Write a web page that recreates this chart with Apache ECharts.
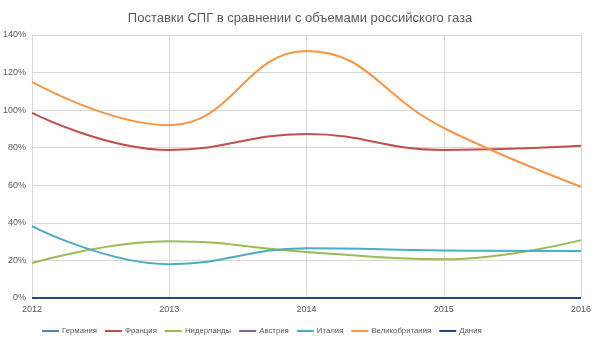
<!DOCTYPE html>
<html><head><meta charset="utf-8">
<script src="https://cdn.jsdelivr.net/npm/echarts@6/dist/echarts.min.js"></script>
<style>html,body{margin:0;padding:0;background:#fff}#c{width:600px;height:343px}</style>
</head><body><div id="c"></div>
<script>
const years = ['2012','2013','2014','2015','2016'];
const germany = [0,0,0,0,0];
const france = [98.5,78.8,87.3,78.8,81];
const netherlands = [18.6,30.2,24.5,20.6,30.8];
const austria = [0,0,0,0,0];
const italy = [38.3,18,26.5,25.3,25];
const uk = [115,92,131.5,90.5,59.2];
const denmark = [0,0,0,0,0];
const names = ['Германия','Франция','Нидерланды','Австрия','Италия','Великобритания','Дания'];
const colors = ['#4F81BD','#C0504D','#9BBB59','#8064A2','#4BACC6','#F79646','#1F497D'];
const data = [germany,france,netherlands,austria,italy,uk,denmark];
const chart = echarts.init(document.getElementById('c'));
chart.setOption({
  animation:false,
  title:{text:'Поставки СПГ в сравнении с объемами российского газа',left:'center',top:7,
    textStyle:{fontFamily:'Liberation Sans, Arial',fontSize:13,fontWeight:'normal',color:'#595959'}},
  grid:{left:31,right:19,top:35,bottom:45,containLabel:false},
  legend:{top:322,left:37,itemWidth:17,itemHeight:2,itemGap:8,icon:'rect',
    textStyle:{fontSize:7.8,color:'#595959',fontFamily:'Liberation Sans, Arial',padding:[0,0,0,-2]},data:names},
  xAxis:{type:'category',data:years,boundaryGap:false,
    axisLine:{lineStyle:{color:'#d9d9d9'}},axisTick:{show:false},
    axisLabel:{fontSize:9,color:'#595959',margin:7},
    splitLine:{show:true,lineStyle:{color:'#d9d9d9'}}},
  yAxis:{type:'value',min:0,max:140,interval:20,
    axisLabel:{formatter:'{value}%',fontSize:9,color:'#595959',margin:6},
    axisLine:{show:true,lineStyle:{color:'#d9d9d9'}},
    splitLine:{lineStyle:{color:'#d9d9d9'}}},
  series:names.map((n,i)=>({name:n,type:'line',data:data[i],smooth:0.45,showSymbol:false,
    lineStyle:{width:2,color:colors[i]},itemStyle:{color:colors[i]}}))
});
</script></body></html>
